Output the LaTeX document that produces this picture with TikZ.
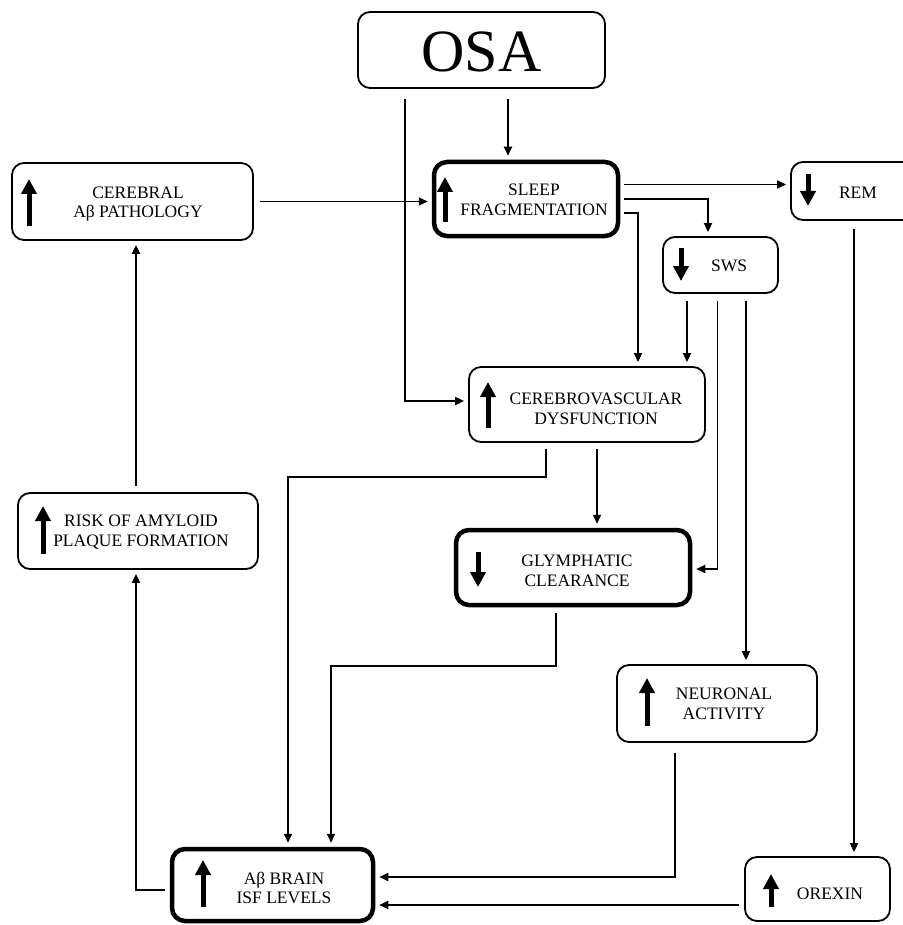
\documentclass[tikz,border=0pt]{standalone}
\usepackage{fontspec}
\setmainfont{Liberation Serif}
\usetikzlibrary{arrows.meta,calc}
\begin{document}
\begin{tikzpicture}[x=1pt,y=-1pt,
  thinbox/.style={draw,line width=1.8pt,rounded corners=12pt,inner sep=0pt},
  thickbox/.style={draw,line width=4.5pt,rounded corners=13pt,inner sep=0pt},
  lbl/.style={align=center,inner sep=0pt,font=\fontsize{17.5pt}{19.5pt}\selectfont},
  conn/.style={line width=1.8pt,-{Triangle[length=9pt,width=8pt]},shorten <=6pt,shorten >=4pt},
  bigarrow/.style={line width=5pt,-{Triangle[length=15pt,width=15pt]}}]
\useasboundingbox (0,0) rectangle (902,925);
% boxes
\node[thinbox,minimum width=247pt,minimum height=76pt] (osa) at (481.5,50) {};
\node[inner sep=0pt,font=\fontsize{60pt}{62pt}\selectfont] (osat) at (481.5,52) {OSA};
\node[thinbox,minimum width=241pt,minimum height=77pt] (cer) at (132.5,201.5) {};
\node[lbl] (cert) at (138,204) {CEREBRAL\\Aβ PATHOLOGY};
\node[thickbox,minimum width=184pt,minimum height=74pt] (sf) at (526,199) {};
\node[lbl] (sft) at (534,200) {SLEEP\\FRAGMENTATION};
\node[thinbox,minimum width=124pt,minimum height=58pt] (rem) at (853,191) {};
\node[lbl] (remt) at (858,193) {REM};
\node[thinbox,minimum width=115pt,minimum height=56pt] (sws) at (720.5,265) {};
\node[lbl] (swst) at (729,266) {SWS};
\node[thinbox,minimum width=236pt,minimum height=75pt] (cv) at (587,404.5) {};
\node[lbl] (cvt) at (596,409) {CEREBROVASCULAR\\DYSFUNCTION};
\node[thinbox,minimum width=240pt,minimum height=76pt] (risk) at (138,531) {};
\node[lbl] (riskt) at (141,532) {RISK OF AMYLOID\\PLAQUE FORMATION};
\node[thickbox,minimum width=234pt,minimum height=75pt] (gly) at (573,567.5) {};
\node[lbl] (glyt) at (577,571) {GLYMPHATIC\\CLEARANCE};
\node[thinbox,minimum width=200pt,minimum height=77pt] (neu) at (717,703.5) {};
\node[lbl] (neut) at (724,704) {NEURONAL\\ACTIVITY};
\node[thickbox,minimum width=201pt,minimum height=72pt] (isf) at (272.5,885) {};
\node[lbl] (isft) at (284,888) {Aβ BRAIN\\ISF LEVELS};
\node[thinbox,minimum width=145pt,minimum height=64pt] (orx) at (817.5,889) {};
\node[lbl] (orxt) at (830,894) {OREXIN};
% big arrows inside boxes
\draw[bigarrow] (29,226) -- (29,179);
\draw[bigarrow] (445,222) -- (445,177);
\draw[bigarrow] (808,174) -- (808,206);
\draw[bigarrow] (681,248) -- (681,281);
\draw[bigarrow] (488,428) -- (488,382);
\draw[bigarrow] (43,554) -- (43,506);
\draw[bigarrow] (478,552) -- (478,587);
\draw[bigarrow] (647,726) -- (647,678);
\draw[bigarrow] (203,907) -- (203,860);
\draw[bigarrow] (771,907) -- (771,874);
% connectors
\draw[conn,shorten <=10pt] ([xshift=26.5pt]osa.south) -- ([xshift=26.5pt]osa.south |- sf.north);
\draw[conn,shorten <=10pt] ([xshift=-76.5pt]osa.south) |- ([yshift=3.5pt]cv.west);
\draw[conn] (cer.east) -- (cer.east -| sf.west);
\draw[conn,shorten <=4pt] ([yshift=14.5pt]sf.east) -- ([yshift=14.5pt]sf.east -| rem.west);
\draw[conn,shorten <=4pt] (sf.east) -| ([xshift=-12.5pt]sws.north);
\draw[conn,shorten <=4pt] ([yshift=-14pt]sf.east) -| ([xshift=51pt]cv.north);
\draw[conn,shorten <=7pt] ([xshift=-33.5pt]sws.south) -- ([xshift=-33.5pt]sws.south |- cv.north);
\draw[conn,shorten <=7pt] ([xshift=-3pt]sws.south) |- ([yshift=-1.5pt]gly.east);
\draw[conn,shorten <=7pt] ([xshift=25.5pt]sws.south) -- ([xshift=25.5pt]sws.south |- neu.north);
\draw[conn,shorten <=8pt] ([xshift=1pt]rem.south) -- ([xshift=1pt]rem.south |- orx.north);
\draw[conn] ([xshift=10pt]cv.south) -- ([xshift=10pt]cv.south |- gly.north);
\draw[conn] ([xshift=-41pt]cv.south) -- ([xshift=-41pt,yshift=-34pt]cv.south) -| ([xshift=15.5pt]isf.north);
\draw[conn] ([xshift=-17pt]gly.south) -- ([xshift=-17pt,yshift=-59pt]gly.south) -| ([xshift=58.5pt]isf.north);
\draw[conn,shorten <=10pt] ([xshift=-42pt]neu.south) |- ([yshift=8pt]isf.east);
\draw[conn,shorten <=5pt] ([yshift=-16pt]orx.west) -- ([yshift=-16pt]orx.west -| isf.east);
\draw[conn,shorten <=5pt] ([yshift=-5pt]isf.west) -| ([xshift=-2pt]risk.south);
\draw[conn] ([xshift=-2pt]risk.north) -- ([xshift=-2pt]risk.north |- cer.south);
\end{tikzpicture}
\end{document}
